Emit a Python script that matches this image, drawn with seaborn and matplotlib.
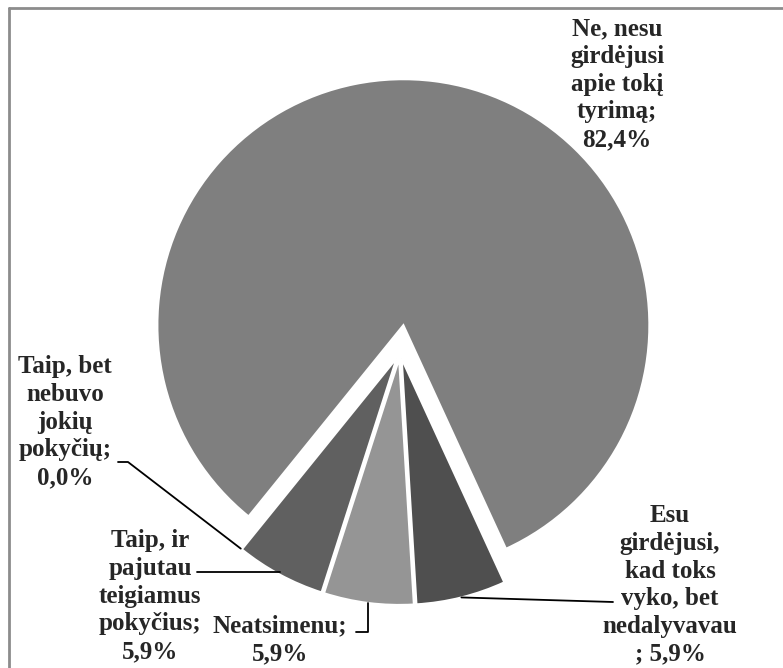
import numpy as np
import matplotlib.pyplot as plt
import seaborn as sns

# survey answers (Excel pie, clockwise from the big slice)
labels = [
    "Ne, nesu\ngirdėjusi\napie tokį\ntyrimą;\n82,4%",
    "Esu\ngirdėjusi,\nkad toks\nvyko, bet\nnedalyvavau\n; 5,9%",
    "Neatsimenu;\n5,9%",
    "Taip, ir\npajutau\nteigiamus\npokyčius;\n5,9%",
    "Taip, bet\nnebuvo\njokių\npokyčių;\n0,0%",
]
shares = [82.4, 5.9, 5.9, 5.9, 0.0]
colors = sns.color_palette(["#7f7f7f", "#4f4f4f", "#959595", "#606060", "#6a6a6a"])

sns.set_style("white")
plt.rcParams["font.family"] = ["Liberation Serif", "DejaVu Serif"]

fig = plt.figure(figsize=(7.83, 6.68), dpi=100)
ax = fig.add_axes([0, 0, 1, 1])

R = 246
# explode offsets are in data units (px here)
explode = [27, 7, 7, 7, 7]
wedges, _ = ax.pie(shares, colors=colors, explode=explode, radius=R,
                   startangle=231, counterclock=False,
                   wedgeprops=dict(edgecolor="white", linewidth=1.5))
ax.set_xlim(-400, 383)
ax.set_ylim(-316, 352)
ax.set_aspect("equal")
ax.axis("off")


def anchor(w):
    # point on the outer arc, middle of the wedge
    a = np.deg2rad((w.theta1 + w.theta2) / 2)
    cx, cy = w.center
    return cx + w.r * np.cos(a), cy + w.r * np.sin(a)


txt = dict(fontsize=18, fontweight="bold", ha="center", va="center",
           linespacing=1.26)

# label placement (offsets from pie centre, in px)
ax.text(217, 268, labels[0], **txt)
ax.text(270, -233, labels[1], **txt)
ax.text(-120, -288, labels[2], **txt)
ax.text(-250, -244, labels[3], **txt)
ax.text(-335, -70, labels[4], **txt)

lk = dict(color="black", lw=1.3)
x, y = anchor(wedges[1])
ax.plot([x, 213], [y, -250], **lk)
x, y = anchor(wedges[2])
ax.plot([x, x, -44], [y, -280, -280], **lk)
x, y = anchor(wedges[3])
ax.plot([x, -203], [-220, -220], **lk)
x, y = anchor(wedges[4])
ax.plot([x, -272, -282], [y, -110, -110], **lk)

# frame (only top and left visible in the crop)
fig.add_artist(plt.Line2D([9 / 783, 1], [1 - 8 / 668, 1 - 8 / 668],
                          transform=fig.transFigure, color="#8c8c8c", lw=2))
fig.add_artist(plt.Line2D([9 / 783, 9 / 783], [0, 1 - 8 / 668],
                          transform=fig.transFigure, color="#8c8c8c", lw=2))

fig.savefig("out.png", dpi=100)
